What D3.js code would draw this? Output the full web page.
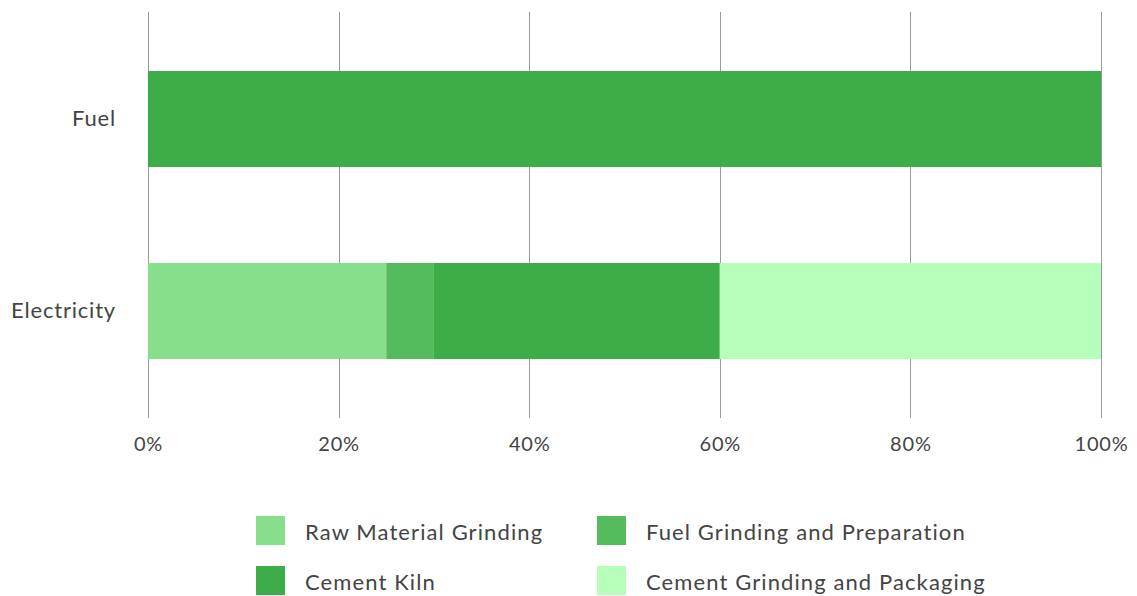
<!DOCTYPE html>
<html><head><meta charset="utf-8">
<script src="https://cdn.jsdelivr.net/npm/d3@7"></script>
<style>body{margin:0;background:#fff;} text{font-family:Lato,"Open Sans",sans-serif;fill:#444;}</style>
</head><body><svg id="c" width="1137" height="596"></svg>
<script>
const categories = ["Fuel", "Electricity"];
const seriesNames = ["Raw Material Grinding", "Fuel Grinding and Preparation", "Cement Kiln", "Cement Grinding and Packaging"];
const rawMaterial = [0, 25];
const fuelGrinding = [0, 5];
const cementKiln = [100, 30];
const cementPackaging = [0, 40];
const tickValues = [0, 20, 40, 60, 80, 100];
const colors = ["#87de8b", "#55bc5e", "#3cad48", "#b6feba"];

const FONT = "Lato, 'Open Sans', sans-serif";
const seriesVals = [rawMaterial, fuelGrinding, cementKiln, cementPackaging];
const data = categories.map((c, i) => {
  const o = {cat: c};
  seriesNames.forEach((s, j) => o[s] = seriesVals[j][i]);
  return o;
});
const stack = d3.stack().keys(seriesNames)(data);

const svg = d3.select("#c");
const x = d3.scaleLinear().domain([0, 100]).range([148, 1101]);
const y = d3.scaleBand().domain(categories).range([23, 407]).paddingInner(0.5).paddingOuter(0.25);

svg.append("g").selectAll("line").data(tickValues).join("line")
  .attr("x1", d => Math.round(x(d)) + 0.5).attr("x2", d => Math.round(x(d)) + 0.5)
  .attr("y1", 12).attr("y2", 418)
  .attr("stroke", "#9a9a9a").attr("stroke-width", 1);

svg.append("g").selectAll("g").data(stack).join("g")
  .attr("fill", (d, i) => colors[i])
  .selectAll("rect").data(d => d).join("rect")
  .attr("x", d => x(d[0])).attr("width", d => x(d[1]) - x(d[0]))
  .attr("y", d => y(d.data.cat)).attr("height", y.bandwidth());

const xAxis = svg.append("g").attr("transform", "translate(0,418)")
  .call(d3.axisBottom(x).tickValues(tickValues).tickFormat(d => d + "%").tickSize(0).tickPadding(19));
xAxis.select(".domain").remove();
xAxis.selectAll("text").style("font-size", "20px").style("letter-spacing", "0.8px")
  .style("fill", "#444").style("font-family", FONT);

const yAxis = svg.append("g").attr("transform", "translate(116,0)")
  .call(d3.axisLeft(y).tickSize(0).tickPadding(0));
yAxis.select(".domain").remove();
yAxis.selectAll("text").style("font-size", "22px").style("letter-spacing", "0.8px")
  .style("fill", "#444").style("font-family", FONT);

const legendPos = [[256, 516], [597, 516], [256, 566], [597, 566]];
const lg = svg.append("g").selectAll("g").data(seriesNames).join("g")
  .attr("transform", (d, i) => `translate(${legendPos[i][0]},${legendPos[i][1]})`);
lg.append("rect").attr("width", 29).attr("height", 29).attr("fill", (d, i) => colors[i]);
lg.append("text").attr("x", 49).attr("y", 16).attr("dy", "0.35em")
  .style("font-size", "22px").style("letter-spacing", "1.1px").style("font-family", FONT).text(d => d);
</script></body></html>
